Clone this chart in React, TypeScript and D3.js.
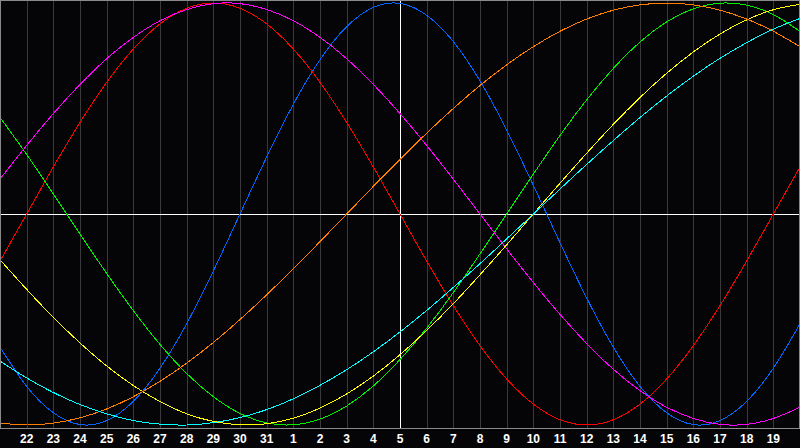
import * as d3 from "d3";

// day of month shown on each column, x index 0..30
const dayLabels = [
  21, 22, 23, 24, 25, 26, 27, 28, 29, 30, 31, 1, 2, 3, 4, 5, 6, 7, 8, 9, 10,
  11, 12, 13, 14, 15, 16, 17, 18, 19, 20,
];
const todayIndex = 15;

// daily cycle values (-1..1)
const physical = [
  -0.631, -0.817, -0.942, -0.998, -0.979, -0.888, -0.731, -0.52, -0.27, 0,
  0.27, 0.52, 0.731, 0.888, 0.979, 0.998, 0.942, 0.817, 0.631, 0.398, 0.136,
  -0.136, -0.398, -0.631, -0.817, -0.942, -0.998, -0.979, -0.888, -0.731, -0.52,
];
const emotional = [
  -0.223, 0, 0.223, 0.434, 0.624, 0.782, 0.901, 0.975, 1, 0.975, 0.901, 0.782,
  0.624, 0.434, 0.223, 0, -0.223, -0.434, -0.624, -0.782, -0.901, -0.975, -1,
  -0.975, -0.901, -0.782, -0.624, -0.434, -0.223, 0, 0.223,
];
const intellectual = [
  0.458, 0.282, 0.095, -0.095, -0.282, -0.458, -0.618, -0.756, -0.866, -0.945,
  -0.99, -0.999, -0.972, -0.91, -0.815, -0.69, -0.541, -0.372, -0.189, 0,
  0.189, 0.372, 0.541, 0.69, 0.815, 0.91, 0.972, 0.999, 0.99, 0.945, 0.866,
];
const intuitive = [
  0.165, 0.325, 0.476, 0.614, 0.736, 0.837, 0.916, 0.969, 0.997, 0.997, 0.969,
  0.916, 0.837, 0.736, 0.614, 0.476, 0.325, 0.165, 0, -0.165, -0.325, -0.476,
  -0.614, -0.736, -0.837, -0.916, -0.969, -0.997, -0.997, -0.969, -0.916,
];
const aesthetic = [
  -0.217, -0.357, -0.49, -0.611, -0.72, -0.813, -0.889, -0.947, -0.983, -0.999,
  -0.994, -0.968, -0.92, -0.853, -0.768, -0.667, -0.552, -0.425, -0.288,
  -0.146, 0, 0.146, 0.288, 0.425, 0.552, 0.667, 0.768, 0.853, 0.92, 0.968,
  0.994,
];
const awareness = [
  -0.991, -1, -0.991, -0.966, -0.924, -0.866, -0.793, -0.707, -0.609, -0.5,
  -0.383, -0.259, -0.131, 0, 0.131, 0.259, 0.383, 0.5, 0.609, 0.707, 0.793,
  0.866, 0.924, 0.966, 0.991, 1, 0.991, 0.966, 0.924, 0.866, 0.793,
];
const spiritual = [
  -0.697, -0.777, -0.846, -0.903, -0.947, -0.979, -0.996, -1, -0.989, -0.965,
  -0.927, -0.876, -0.812, -0.738, -0.653, -0.559, -0.457, -0.348, -0.235,
  -0.118, 0, 0.118, 0.235, 0.348, 0.457, 0.559, 0.653, 0.738, 0.812, 0.876,
  0.927,
];

const cycles = [
  { name: "Physical", values: physical, color: "#0066ff" },
  { name: "Emotional", values: emotional, color: "#ff0000" },
  { name: "Intellectual", values: intellectual, color: "#00ee00" },
  { name: "Intuitive", values: intuitive, color: "#ff00ff" },
  { name: "Aesthetic", values: aesthetic, color: "#ffff00" },
  { name: "Awareness", values: awareness, color: "#ff8000" },
  { name: "Spiritual", values: spiritual, color: "#00ffff" },
];

const width = 800;
const height = 448;
const plotBottom = 428;

export default function App() {
  const x = d3.scaleLinear().domain([0, dayLabels.length - 1]).range([0, 800]);
  const y = d3.scaleLinear().domain([-1, 1]).range([425, 3]);

  const line = d3
    .line<number>()
    .x((_, i) => x(i))
    .y((d) => y(d))
    .curve(d3.curveNatural);

  const ticks = d3.range(1, dayLabels.length - 1);

  return (
    <div style={{ position: "fixed", left: 0, top: 0 }}>
      <svg width={width} height={height} style={{ display: "block" }}>
        <rect width={width} height={height} fill="#050508" />

        {/* day grid */}
        {ticks
          .filter((i) => i !== todayIndex)
          .map((i) => (
            <line
              key={i}
              x1={Math.round(x(i)) + 0.5}
              x2={Math.round(x(i)) + 0.5}
              y1={0}
              y2={plotBottom}
              stroke="#3a3a3a"
              shapeRendering="crispEdges"
            />
          ))}

        {/* zero line and today */}
        <line
          x1={0}
          x2={width}
          y1={Math.round(y(0)) + 0.5}
          y2={Math.round(y(0)) + 0.5}
          stroke="#ffffff"
          shapeRendering="crispEdges"
        />
        <line
          x1={Math.round(x(todayIndex)) + 0.5}
          x2={Math.round(x(todayIndex)) + 0.5}
          y1={0}
          y2={plotBottom}
          stroke="#ffffff"
          shapeRendering="crispEdges"
        />

        {cycles.map((c) => (
          <path
            key={c.name}
            d={line(c.values) ?? ""}
            fill="none"
            stroke={c.color}
            strokeWidth={1}
            shapeRendering="crispEdges"
          />
        ))}

        {/* frame */}
        <rect
          x={0.5}
          y={0.5}
          width={799}
          height={plotBottom}
          fill="none"
          stroke="#8a8a8a"
          shapeRendering="crispEdges"
        />

        {ticks.map((i) => (
          <text
            key={i}
            x={x(i)}
            y={443}
            textAnchor="middle"
            fill="#ffffff"
            fontSize={12}
            fontWeight="bold"
            fontFamily="Liberation Sans, Arial, sans-serif"
          >
            {dayLabels[i]}
          </text>
        ))}
      </svg>
    </div>
  );
}
